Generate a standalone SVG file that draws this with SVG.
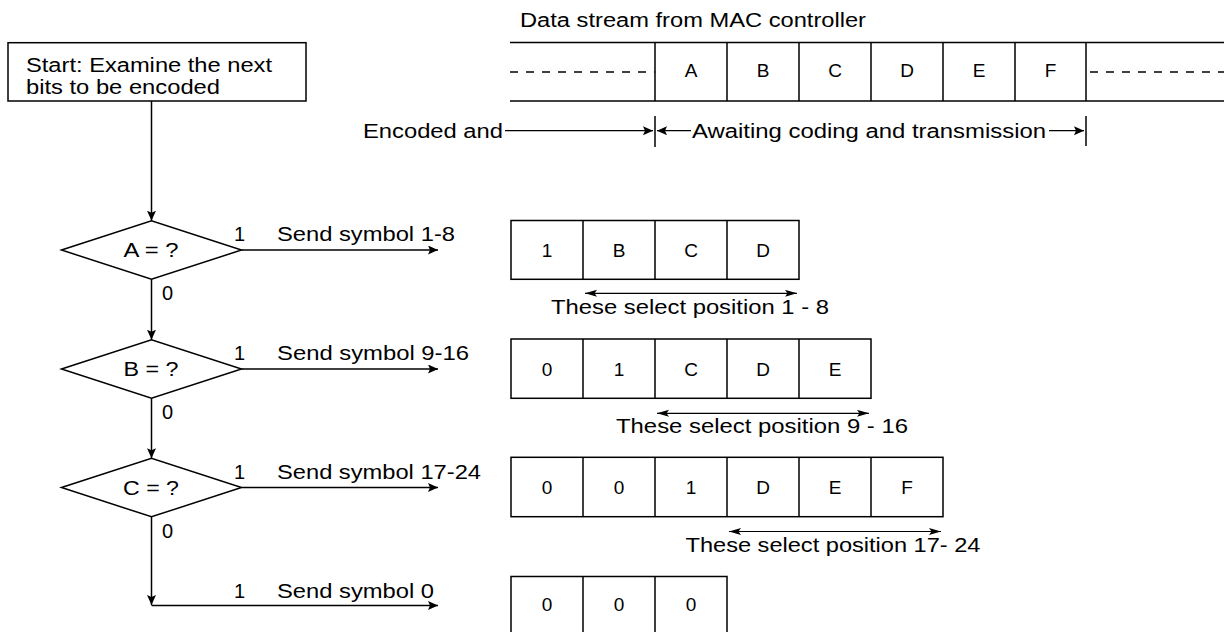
<svg xmlns="http://www.w3.org/2000/svg" width="1224" height="632" viewBox="0 0 1224 632">
<defs>
<style>
.t{font-family:"Liberation Sans",Arial,Helvetica,sans-serif;font-size:20px;fill:#000}
.c{font-family:"Liberation Sans",Arial,Helvetica,sans-serif;font-size:19px;fill:#000;text-anchor:middle}
.m{text-anchor:middle}
.ln{stroke:#000;stroke-width:1.5;fill:none}
.th{stroke:#000;stroke-width:1.2;fill:none}
.bx{stroke:#000;stroke-width:1.5;fill:#fff}
.dash{stroke:#000;stroke-width:1.3;stroke-dasharray:8 8;fill:none}
</style>
<marker id="ah" markerWidth="12" markerHeight="10" refX="10" refY="4.5" orient="auto-start-reverse" markerUnits="userSpaceOnUse"><path d="M0,0 L10,4.5 L0,9 L2,4.5 z" fill="#000"/></marker>
<marker id="ah2" markerWidth="14" markerHeight="8" refX="12" refY="3.5" orient="auto-start-reverse" markerUnits="userSpaceOnUse"><path d="M0,0 L12,3.5 L0,7 L2.5,3.5 z" fill="#000"/></marker>
</defs>
<rect width="1224" height="632" fill="#fff"/>

<!-- Data stream -->
<g id="stream">
<text class="t" x="520" y="27" textLength="346" lengthAdjust="spacingAndGlyphs">Data stream from MAC controller</text>
<line class="ln" x1="510" y1="42.5" x2="1224" y2="42.5"/>
<line class="ln" x1="510" y1="101" x2="1224" y2="101"/>
<line class="dash" x1="510" y1="72" x2="655" y2="72"/>
<line class="dash" x1="1090" y1="72" x2="1224" y2="72"/>
<path class="ln" d="M655,42.5V101 M727,42.5V101 M799,42.5V101 M871,42.5V101 M943,42.5V101 M1015,42.5V101 M1086,42.5V101"/>
<text class="c" x="691" y="77">A</text>
<text class="c" x="763" y="77">B</text>
<text class="c" x="835" y="77">C</text>
<text class="c" x="907" y="77">D</text>
<text class="c" x="979" y="77">E</text>
<text class="c" x="1050.5" y="77">F</text>
</g>

<g id="stream-labels">
<text class="t" x="363" y="138" textLength="140" lengthAdjust="spacingAndGlyphs">Encoded and</text>
<line class="th" x1="505" y1="130.7" x2="653" y2="130.7" marker-end="url(#ah)"/>
<line class="ln" x1="655" y1="116" x2="655" y2="147"/>
<line class="th" x1="691" y1="130.7" x2="657" y2="130.7" marker-end="url(#ah)"/>
<text class="t" x="692" y="138" textLength="354" lengthAdjust="spacingAndGlyphs">Awaiting coding and transmission</text>
<line class="th" x1="1049" y1="130.7" x2="1084" y2="130.7" marker-end="url(#ah)"/>
<line class="ln" x1="1086" y1="116" x2="1086" y2="146"/>
</g>

<!-- Flowchart nodes -->
<g id="start">
<rect class="bx" x="8" y="42.7" width="298" height="58.3"/>
<text class="t" x="26" y="72" textLength="246" lengthAdjust="spacingAndGlyphs">Start: Examine the next</text>
<text class="t" x="26" y="93.5" textLength="194" lengthAdjust="spacingAndGlyphs">bits to be encoded</text>
</g>
<g id="decA">
<polygon class="bx" points="61.5,250 151.5,220.7 241.5,250 151.5,279.3"/>
<text class="t m" x="151" y="257" textLength="55" lengthAdjust="spacingAndGlyphs">A = ?</text>
</g>
<g id="decB">
<polygon class="bx" points="61.5,369 151.5,339.7 241.5,369 151.5,398.3"/>
<text class="t m" x="151" y="375.5" textLength="55" lengthAdjust="spacingAndGlyphs">B = ?</text>
</g>
<g id="decC">
<polygon class="bx" points="61.5,487.5 151.5,458.2 241.5,487.5 151.5,516.8"/>
<text class="t m" x="151" y="494.5" textLength="56" lengthAdjust="spacingAndGlyphs">C = ?</text>
</g>

<!-- Connectors -->
<g id="connectors">
<line class="ln" x1="151.5" y1="101" x2="151.5" y2="220.7" marker-end="url(#ah)"/>
<line class="ln" x1="151.5" y1="279.3" x2="151.5" y2="339.7" marker-end="url(#ah)"/>
<line class="ln" x1="151.5" y1="398.3" x2="151.5" y2="458.2" marker-end="url(#ah)"/>
<line class="ln" x1="151.5" y1="516.8" x2="151.5" y2="605" marker-end="url(#ah)"/>
<line class="ln" x1="151.5" y1="605.5" x2="438" y2="605.5" marker-end="url(#ah)"/>
<line class="ln" x1="241.5" y1="250" x2="438" y2="250" marker-end="url(#ah)"/>
<line class="ln" x1="241.5" y1="369" x2="438" y2="369" marker-end="url(#ah)"/>
<line class="ln" x1="241.5" y1="487.5" x2="438" y2="487.5" marker-end="url(#ah)"/>
</g>

<g id="edge-labels">
<text class="t" x="234" y="241">1</text>
<text class="t" x="277" y="241" textLength="178" lengthAdjust="spacingAndGlyphs">Send symbol 1-8</text>
<text class="t" x="162" y="300">0</text>
<text class="t" x="234" y="360">1</text>
<text class="t" x="277" y="360" textLength="192" lengthAdjust="spacingAndGlyphs">Send symbol 9-16</text>
<text class="t" x="162" y="419">0</text>
<text class="t" x="234" y="478.5">1</text>
<text class="t" x="277" y="478.5" textLength="204" lengthAdjust="spacingAndGlyphs">Send symbol 17-24</text>
<text class="t" x="162" y="538">0</text>
<text class="t" x="234" y="598">1</text>
<text class="t" x="277" y="598" textLength="157" lengthAdjust="spacingAndGlyphs">Send symbol 0</text>
</g>

<!-- Result rows -->
<g id="row1">
<rect class="bx" x="511" y="220.5" width="288" height="58.8"/>
<path class="ln" d="M583,220.5V279.3 M655,220.5V279.3 M727,220.5V279.3"/>
<text class="c" x="547" y="257">1</text>
<text class="c" x="619" y="257">B</text>
<text class="c" x="691" y="257">C</text>
<text class="c" x="763" y="257">D</text>
<line class="th" x1="585" y1="293.3" x2="797" y2="293.3" marker-start="url(#ah2)" marker-end="url(#ah2)"/>
<text class="t" x="551" y="314" textLength="278" lengthAdjust="spacingAndGlyphs">These select position 1 - 8</text>
</g>
<g id="row2">
<rect class="bx" x="511" y="339" width="360" height="59.3"/>
<path class="ln" d="M583,339V398.3 M655,339V398.3 M727,339V398.3 M799,339V398.3"/>
<text class="c" x="547" y="375.5">0</text>
<text class="c" x="619" y="375.5">1</text>
<text class="c" x="691" y="375.5">C</text>
<text class="c" x="763" y="375.5">D</text>
<text class="c" x="835" y="375.5">E</text>
<line class="th" x1="657" y1="413.3" x2="869" y2="413.3" marker-start="url(#ah2)" marker-end="url(#ah2)"/>
<text class="t" x="616" y="433.3" textLength="292" lengthAdjust="spacingAndGlyphs">These select position 9 - 16</text>
</g>
<g id="row3">
<rect class="bx" x="511" y="457.3" width="432" height="59.4"/>
<path class="ln" d="M583,457.3V516.7 M655,457.3V516.7 M727,457.3V516.7 M799,457.3V516.7 M871,457.3V516.7"/>
<text class="c" x="547" y="493.5">0</text>
<text class="c" x="619" y="493.5">0</text>
<text class="c" x="691" y="493.5">1</text>
<text class="c" x="763" y="493.5">D</text>
<text class="c" x="835" y="493.5">E</text>
<text class="c" x="907" y="493.5">F</text>
<line class="th" x1="729" y1="531.5" x2="941" y2="531.5" marker-start="url(#ah2)" marker-end="url(#ah2)"/>
<text class="t" x="685.5" y="551.5" textLength="295" lengthAdjust="spacingAndGlyphs">These select position 17- 24</text>
</g>
<g id="row4">
<rect class="bx" x="511" y="576.5" width="216" height="60"/>
<path class="ln" d="M583,576.5V636 M655,576.5V636"/>
<text class="c" x="547" y="611">0</text>
<text class="c" x="619" y="611">0</text>
<text class="c" x="691" y="611">0</text>
</g>
</svg>
